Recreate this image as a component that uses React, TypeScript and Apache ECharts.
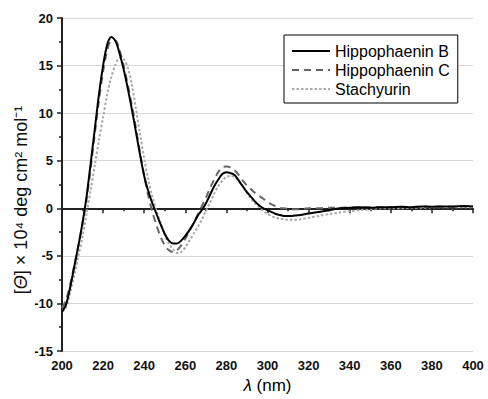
import React, { useEffect, useRef } from "react";
import * as echarts from "echarts";

const wavelengths = [200, 202, 204, 206, 208, 210, 212, 214, 216, 218, 220, 222, 224, 226, 228, 230, 232, 234, 236, 238, 240, 242, 244, 246, 248, 250, 252, 254, 256, 258, 260, 262, 264, 266, 268, 270, 272, 274, 276, 278, 280, 282, 284, 286, 288, 290, 292, 294, 296, 298, 300, 302, 304, 306, 308, 310, 312, 314, 316, 320, 325, 330, 335, 340, 345, 350, 355, 360, 365, 370, 375, 380, 385, 390, 395, 400];

const hippophaeninB = [-10.9, -10.1, -8.3, -6.1, -3.9, -1.5, 1.3, 4.8, 8.4, 12.0, 15.0, 17.2, 18.0, 17.6, 16.3, 14.6, 12.6, 10.4, 8.0, 5.6, 3.4, 1.8, 0.5, -0.6, -1.7, -2.7, -3.4, -3.7, -3.7, -3.4, -2.9, -2.3, -1.6, -0.8, -0.2, 0.5, 1.4, 2.3, 3.0, 3.6, 3.8, 3.7, 3.5, 2.9, 2.3, 1.7, 1.2, 0.7, 0.3, 0.0, -0.2, -0.4, -0.6, -0.7, -0.8, -0.8, -0.8, -0.75, -0.7, -0.55, -0.4, -0.2, 0.0, 0.05, 0.1, 0.05, 0.1, 0.1, 0.15, 0.1, 0.2, 0.15, 0.2, 0.2, 0.25, 0.2];

const hippophaeninC = [-10.5, -9.6, -8.0, -6.0, -3.9, -1.6, 1.0, 4.3, 7.9, 11.4, 14.4, 16.6, 17.6, 17.6, 16.6, 15.0, 13.0, 10.8, 8.4, 5.8, 3.4, 1.3, -0.4, -1.8, -3.0, -3.9, -4.4, -4.6, -4.4, -3.9, -3.2, -2.4, -1.6, -0.7, 0.2, 1.1, 2.1, 3.0, 3.8, 4.3, 4.4, 4.3, 4.0, 3.5, 2.9, 2.4, 2.0, 1.6, 1.3, 1.0, 0.7, 0.4, 0.2, 0.05, 0.0, -0.05, -0.1, -0.1, -0.1, 0.0, 0.0, 0.05, 0.05, 0.1, 0.1, 0.1, 0.1, 0.1, 0.1, 0.1, 0.15, 0.15, 0.15, 0.15, 0.2, 0.2];

const stachyurin = [-10.8, -10.4, -8.8, -7.0, -5.0, -3.0, -0.5, 2.0, 4.6, 7.2, 9.6, 12.0, 13.8, 15.1, 15.8, 15.7, 14.8, 13.0, 10.4, 7.8, 5.2, 3.0, 1.2, -0.3, -1.6, -2.8, -3.7, -4.3, -4.7, -4.6, -4.1, -3.4, -2.7, -2.0, -1.2, -0.3, 0.6, 1.5, 2.3, 2.9, 3.3, 3.4, 3.3, 2.9, 2.3, 1.6, 1.0, 0.5, 0.1, -0.3, -0.6, -0.8, -1.0, -1.1, -1.15, -1.2, -1.2, -1.2, -1.15, -1.0, -0.8, -0.6, -0.45, -0.3, -0.2, -0.1, 0.0, 0.0, 0.0, 0.05, 0.05, 0.1, 0.1, 0.1, 0.1, 0.1];

const seriesNames = ["Hippophaenin B", "Hippophaenin C", "Stachyurin"];

const pairs = (ys: number[]) => wavelengths.map((x, i) => [x, ys[i]]);

export default function App() {
  const ref = useRef<HTMLDivElement>(null);
  useEffect(() => {
    if (!ref.current) return;
    const chart = echarts.init(ref.current, null, { renderer: "svg" });
    const font = "Liberation Sans, Arial, sans-serif";
    chart.setOption({
      animation: false,
      backgroundColor: "#ffffff",
      textStyle: { fontFamily: font },
      grid: { left: 62, right: 15, top: 18, bottom: 48, containLabel: false },
      legend: {
        orient: "vertical",
        left: 284,
        top: 35,
        width: 174,
        padding: [8, 8, 6, 7],
        itemGap: 3,
        itemWidth: 38,
        itemHeight: 10,
        borderColor: "#000",
        borderWidth: 1,
        borderRadius: 0,
        backgroundColor: "#fff",
        itemStyle: { opacity: 0 },
        textStyle: { fontFamily: font, fontSize: 16, color: "#000" },
        data: seriesNames,
      },
      graphic: [
        {
          type: "text",
          x: 21,
          y: 200,
          rotation: Math.PI / 2,
          style: {
            text: "{b|[}{i|Θ}{b|] × 10⁴ deg cm² mol⁻¹}",
            align: "center",
            verticalAlign: "middle",
            rich: {
              i: { fontStyle: "italic", fontSize: 18, fontFamily: font, fill: "#111" },
              b: { fontSize: 18, fontFamily: font, fill: "#111" },
            },
          },
        },
      ],
      xAxis: {
        type: "value",
        min: 200,
        max: 400,
        interval: 20,
        name: "{i|λ}{n| (nm)}",
        nameLocation: "middle",
        nameGap: 26,
        nameTextStyle: {
          rich: {
            i: { fontStyle: "italic", fontSize: 17, fontFamily: font, color: "#000" },
            n: { fontSize: 17, fontFamily: font, color: "#000" },
          },
        },
        axisLine: { lineStyle: { color: "#222", width: 2 } },
        axisTick: { show: true, inside: false, length: 5, lineStyle: { color: "#222", width: 1.5 } },
        minorTick: { show: true, splitNumber: 2, length: 3, lineStyle: { color: "#222", width: 1.5 } },
        axisLabel: { fontSize: 13, fontWeight: "bold", color: "#111", margin: 8, fontFamily: font },
        splitLine: { show: false },
      },
      yAxis: {
        type: "value",
        min: -15,
        max: 20,
        interval: 5,
        axisLine: { show: true, onZero: false, lineStyle: { color: "#222", width: 2 } },
        axisTick: { show: true, inside: false, length: 5, lineStyle: { color: "#222", width: 1.5 } },
        minorTick: { show: true, splitNumber: 2, length: 3, lineStyle: { color: "#222", width: 1.5 } },
        axisLabel: { fontSize: 13, fontWeight: "bold", color: "#111", margin: 9, fontFamily: font },
        splitLine: { show: true, lineStyle: { color: "#d6d6d6", width: 1 } },
      },
      series: [
        {
          name: seriesNames[0],
          type: "line",
          data: pairs(hippophaeninB),
          symbol: "none",
          smooth: 0.3,
          lineStyle: { color: "#000", width: 2, type: "solid" },
          itemStyle: { color: "#000" },
          z: 4,
        },
        {
          name: seriesNames[1],
          type: "line",
          data: pairs(hippophaeninC),
          symbol: "none",
          smooth: 0.3,
          lineStyle: { color: "#666", width: 2, type: [7, 5] },
          itemStyle: { color: "#666" },
          z: 3,
        },
        {
          name: seriesNames[2],
          type: "line",
          data: pairs(stachyurin),
          symbol: "none",
          smooth: 0.3,
          lineStyle: { color: "#aaa", width: 2, type: [2.5, 2] },
          itemStyle: { color: "#aaa" },
          z: 2,
        },
      ],
    });
    return () => chart.dispose();
  }, []);
  return <div ref={ref} style={{ width: 488, height: 399, position: "fixed", left: 0, top: 0 }} />;
}
